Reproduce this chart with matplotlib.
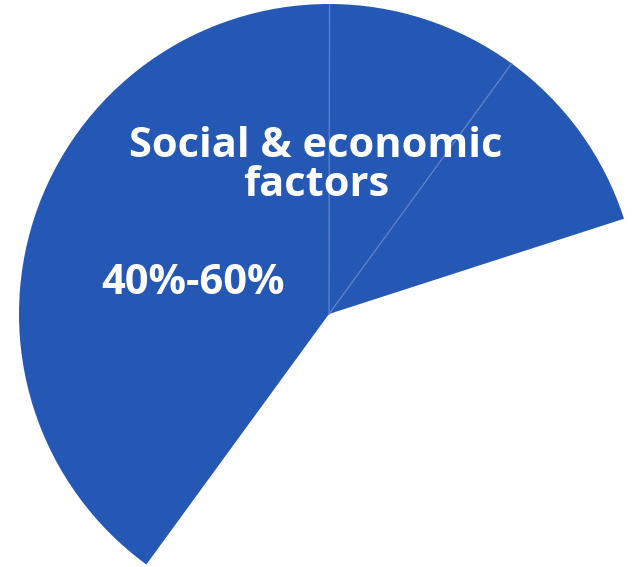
import numpy as np
import matplotlib.pyplot as plt

# slice data (the last share is left blank / white)
categories = ["Genetics", "Health care", "Social & economic factors", "Other"]
shares = [10, 10, 40, 40]
colors = ["#2557b5", "#2557b5", "#2557b5", "none"]

label_text = "Social & economic\nfactors"
range_text = "40%-60%"

fig = plt.figure(figsize=(6.32, 5.67), dpi=100)
# put the pie centre at about (329, 314) px with radius ~310 px
r_px = 310
cx, cy = 329, 567 - 314
ax = fig.add_axes([(cx - r_px) / 632, (cy - r_px) / 567, 2 * r_px / 632, 2 * r_px / 567])

wedges, _ = ax.pie(shares, colors=colors, startangle=17.9, counterclock=True,
                   radius=1, wedgeprops=dict(linewidth=0))

# thin light separators between the blue slices only (no outline on the rim)
for w in wedges[1:3]:
    a = np.deg2rad(w.theta1)
    ax.plot([0, np.cos(a)], [0, np.sin(a)], color="#5f83ca", linewidth=0.9)

ax.set_xlim(-1, 1)
ax.set_ylim(-1, 1)
ax.set_aspect("equal")
ax.axis("off")

ax.text(-0.042, 0.477, label_text, ha="center", va="center", color="white",
        fontsize=30, fontweight="bold", family="Open Sans", linespacing=0.95)
ax.text(-0.439, 0.10, range_text, ha="center", va="center", color="white",
        fontsize=30, fontweight="bold", family="Open Sans")

fig.savefig("out.png", dpi=100)
